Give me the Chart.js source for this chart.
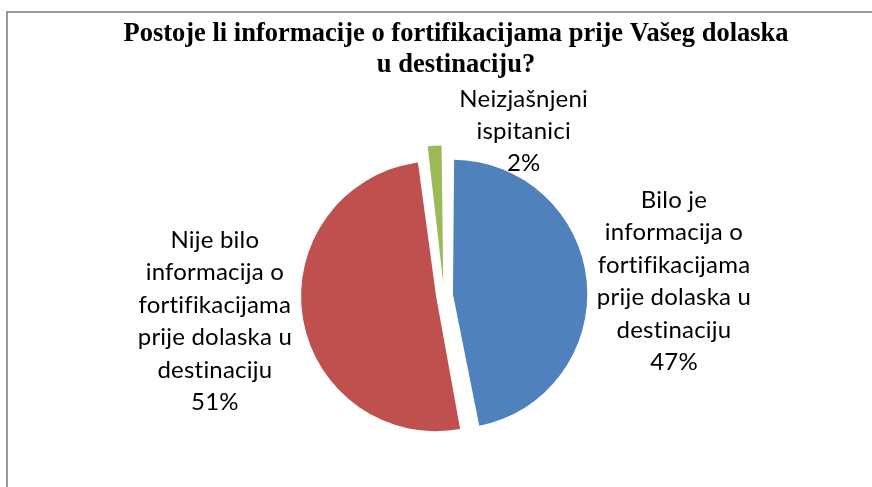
<!DOCTYPE html>
<html>
<head>
<meta charset="utf-8">
<script src="https://cdn.jsdelivr.net/npm/chart.js@4.4.0/dist/chart.umd.min.js"></script>
<style>
  html, body { margin: 0; padding: 0; background: #fff; }
  #wrap { position: relative; width: 872px; height: 487px; overflow: hidden; }
  #frame { position: absolute; left: 6px; top: 11px; width: 900px; height: 500px; border: 2px solid #9a9a9a; }
  #chart { position: absolute; left: 0; top: 0; }
</style>
</head>
<body>
<div id="wrap">
  <div id="frame"></div>
  <canvas id="chart" width="872" height="487"></canvas>
</div>
<script>
const _ = (id) => document.getElementById(id)

// data
const titleLines = ['Postoje li informacije o fortifikacijama prije Vašeg dolaska', 'u destinaciju?']
const categories = [
  'Bilo je informacija o fortifikacijama prije dolaska u destinaciju',
  'Nije bilo informacija o fortifikacijama prije dolaska u destinaciju',
  'Neizjašnjeni ispitanici',
]
const labelLines = [
  ['Bilo je', 'informacija o', 'fortifikacijama', 'prije dolaska u', 'destinaciju'],
  ['Nije bilo', 'informacija o', 'fortifikacijama', 'prije dolaska u', 'destinaciju'],
  ['Neizjašnjeni', 'ispitanici'],
]
const shares = [47, 51, 2]

// styles
const colors = ['#4F81BD', '#C0504D', '#9BBB59']
const explode = [36, 32, 48]
const labelGap = [104, 105, 37]
const labelShift = [[0, 8], [0, -10], [90, 0]]
const labelFont = '24px Lato'
const labelLineH = 32.4

const titlePlugin = {
  id: 'serifTitle',
  afterDraw(chart) {
    const ctx = chart.ctx
    ctx.save()
    ctx.font = 'bold 26.5px "Liberation Serif"'
    ctx.fillStyle = '#000'
    ctx.textAlign = 'center'
    ctx.textBaseline = 'alphabetic'
    titleLines.forEach((t, i) => ctx.fillText(t, 456, 41 + i * 31))
    ctx.restore()
  },
}

const pieLabels = {
  id: 'pieLabels',
  afterDatasetsDraw(chart) {
    const ctx = chart.ctx
    const meta = chart.getDatasetMeta(0)
    ctx.save()
    ctx.font = labelFont
    ctx.letterSpacing = '0.2px'
    ctx.fillStyle = '#000'
    ctx.textAlign = 'center'
    ctx.textBaseline = 'middle'
    meta.data.forEach((arc, i) => {
      const { x, y, startAngle, endAngle, outerRadius } = arc.getProps(
        ['x', 'y', 'startAngle', 'endAngle', 'outerRadius'],
        true
      )
      const mid = (startAngle + endAngle) / 2
      const r = outerRadius + labelGap[i]
      const cx = x + Math.cos(mid) * r + labelShift[i][0]
      const cy = y + Math.sin(mid) * r + labelShift[i][1]
      const lines = [...labelLines[i], `${shares[i]}%`]
      const top = cy - ((lines.length - 1) * labelLineH) / 2
      lines.forEach((t, j) => ctx.fillText(t, cx, top + j * labelLineH))
    })
    ctx.restore()
  },
}

new Chart(_('chart'), {
  type: 'pie',
  data: {
    labels: categories,
    datasets: [
      {
        data: shares,
        backgroundColor: colors,
        borderWidth: 0,
        offset: explode,
        radius: 127,
      },
    ],
  },
  options: {
    responsive: false,
    animation: false,
    events: [],
    devicePixelRatio: 1,
    layout: { padding: { left: 294, right: 278, top: 145, bottom: 42 } },
    plugins: {
      legend: { display: false },
      title: { display: false },
      tooltip: { enabled: false },
    },
  },
  plugins: [pieLabels, titlePlugin],
})
</script>
</body>
</html>
